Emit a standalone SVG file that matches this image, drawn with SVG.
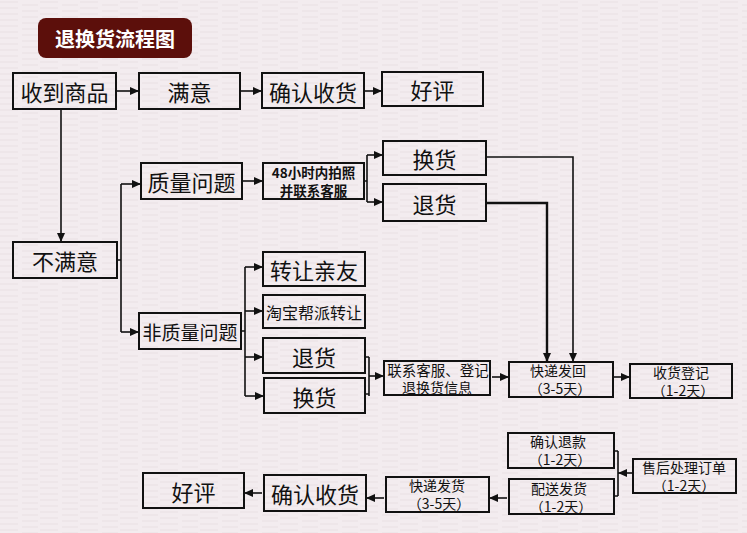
<svg xmlns="http://www.w3.org/2000/svg" width="747" height="533" viewBox="0 0 747 533">
<defs>
<marker id="ah" markerWidth="9" markerHeight="8" refX="9" refY="4" orient="auto" markerUnits="userSpaceOnUse"><path d="M0,0 L9,4 L0,8 Z" fill="#111"/></marker>
<pattern id="tex" width="40" height="6" patternUnits="userSpaceOnUse"><rect width="40" height="6" fill="#f3ecef"/><path d="M0,2 H18 M22,5 H38" stroke="#e9e0e4" stroke-width="1"/></pattern>
</defs>
<style>
.b{fill:none;stroke:#111;stroke-width:2}
.t{font-family:"Noto Sans CJK SC","Noto Sans",sans-serif;fill:#111;text-anchor:middle;dominant-baseline:central}
.L{font-size:22px}
.M{font-size:16px}
.S{font-size:14px}
.bold{font-weight:bold;font-size:13.5px}
.c{fill:none;stroke:#111;stroke-width:1.6}
.a{marker-end:url(#ah)}
</style>
<rect width="747" height="533" fill="url(#tex)"/>
<g id="title"><rect x="38" y="18" width="154" height="40" rx="8" fill="#5c0f0b"/><text x="115" y="38" class="t" style="fill:#fff;font-size:20px;font-weight:bold;font-family:'Noto Sans CJK SC',serif">退换货流程图</text></g>
<g id="connectors">
<path class="c a" d="M116,91 H139"/>
<path class="c a" d="M240,91 H262"/>
<path class="c a" d="M364,91 H382"/>
<path class="c a" d="M61,109 V242"/>
<path class="c" d="M117,260 H121 M121,184 V332"/>
<path class="c a" d="M121,184 H141"/>
<path class="c a" d="M121,332 H139"/>
<path class="c a" d="M242,181 H263"/>
<path class="c" d="M364,181 H367 M367,155 V202"/>
<path class="c a" d="M367,155 H383"/>
<path class="c a" d="M367,202 H383"/>
<path class="c a" d="M486,157 H573 V362"/>
<path class="c a" d="M486,203 H547 V362" style="stroke-width:2.4"/>
<path class="c" d="M241,331 H245 M245,267 V396"/>
<path class="c a" d="M245,267 H263"/>
<path class="c a" d="M245,311 H263"/>
<path class="c a" d="M245,357 H263"/>
<path class="c a" d="M245,396 H264"/>
<path class="c" d="M365,357 H369 M365,394 H369 M369,357 V396"/>
<path class="c a" d="M369,376 H384"/>
<path class="c a" d="M492,377 H509"/>
<path class="c a" d="M614,377 H630"/>
<path class="c" d="M614,451 H618 M614,496 H618 M618,451 V496"/>
<path class="c a" d="M633,473 H618"/>
<path class="c a" d="M507,498 H489"/>
<path class="c a" d="M384,498 H366"/>
<path class="c a" d="M262,493 H244"/>
</g>
<g id="n1"><rect class="b" x="13" y="73" width="103" height="36"/><text class="t L" x="64.5" y="91">收到商品</text></g>
<g id="n2"><rect class="b" x="139" y="73" width="101" height="36"/><text class="t L" x="189.5" y="91">满意</text></g>
<g id="n3"><rect class="b" x="262" y="73" width="102" height="35"/><text class="t L" x="313" y="91">确认收货</text></g>
<g id="n4"><rect class="b" x="382" y="72" width="101" height="34"/><text class="t L" x="432.5" y="89">好评</text></g>
<g id="n5"><rect class="b" x="13" y="242" width="104" height="36"/><text class="t L" x="65" y="260">不满意</text></g>
<g id="n6"><rect class="b" x="141" y="163" width="101" height="36"/><text class="t L" x="191.5" y="181">质量问题</text></g>
<g id="n7"><rect class="b" x="263" y="163" width="101" height="36"/><text class="t bold" x="313.5" y="172">48小时内拍照</text><text class="t bold" x="313.5" y="190">并联系客服</text></g>
<g id="n8"><rect class="b" x="383" y="141" width="103" height="34"/><text class="t L" x="434.5" y="158">换货</text></g>
<g id="n9"><rect class="b" x="383" y="184" width="103" height="37"/><text class="t L" x="434.5" y="202.5">退货</text></g>
<g id="n10"><rect class="b" x="139" y="313" width="102" height="36"/><text class="t" style="font-size:19px" x="190" y="331">非质量问题</text></g>
<g id="n11"><rect class="b" x="263" y="252" width="102" height="34"/><text class="t L" x="314" y="269">转让亲友</text></g>
<g id="n12"><rect class="b" x="263" y="295" width="102" height="33"/><text class="t M" x="314" y="311.5">淘宝帮派转让</text></g>
<g id="n13"><rect class="b" x="263" y="338" width="102" height="35"/><text class="t L" x="314" y="355.5">退货</text></g>
<g id="n14"><rect class="b" x="264" y="378" width="101" height="35"/><text class="t L" x="314.5" y="395.5">换货</text></g>
<g id="n15"><rect class="b" x="384" y="361" width="106" height="34"/><text class="t S" style="font-size:14.5px" x="438" y="369">联系客服、登记</text><text class="t S" x="437" y="387">退换货信息</text></g>
<g id="n16"><rect class="b" x="509" y="362" width="104" height="35"/><text class="t S" x="558" y="370">快递发回</text><text class="t S" x="560" y="388">（3-5天）</text></g>
<g id="n17"><rect class="b" x="630" y="364" width="102" height="34"/><text class="t S" x="681" y="372">收货登记</text><text class="t S" x="683" y="390">（1-2天）</text></g>
<g id="n18"><rect class="b" x="508" y="433" width="106" height="35"/><text class="t S" x="558" y="441">确认退款</text><text class="t S" x="560" y="459">（1-2天）</text></g>
<g id="n19"><rect class="b" x="509" y="479" width="105" height="35"/><text class="t S" x="559" y="488">配送发货</text><text class="t S" x="561" y="506">（1-2天）</text></g>
<g id="n20"><rect class="b" x="633" y="459" width="103" height="34"/><text class="t S" x="684" y="467">售后处理订单</text><text class="t S" x="684" y="485">（1-2天）</text></g>
<g id="n21"><rect class="b" x="386" y="477" width="103" height="35"/><text class="t S" x="437" y="485">快递发货</text><text class="t S" x="439" y="503">（3-5天）</text></g>
<g id="n22"><rect class="b" x="264" y="475" width="102" height="36"/><text class="t L" x="315" y="493">确认收货</text></g>
<g id="n23"><rect class="b" x="143" y="473" width="101" height="35"/><text class="t L" x="193.5" y="491">好评</text></g>
</svg>
